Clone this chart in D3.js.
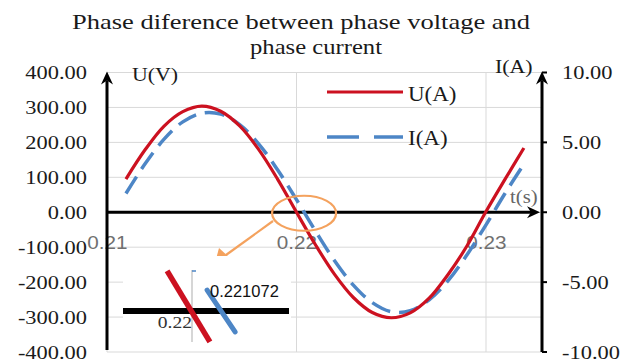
<!DOCTYPE html>
<html>
<head>
<meta charset="utf-8">
<script src="https://cdn.jsdelivr.net/npm/d3@7"></script>
<style>
  body { margin: 0; background: #fff; }
  svg { display: block; }
</style>
</head>
<body>
<svg id="chart" width="629" height="361"></svg>
<script>
// ---- data -------------------------------------------------------------
const times   = [0.211, 0.212, 0.213, 0.214, 0.215, 0.216, 0.217, 0.218, 0.219, 0.220, 0.221,
                 0.222, 0.223, 0.224, 0.225, 0.226, 0.227, 0.228, 0.229, 0.230, 0.231, 0.232];
const voltage = [95, 178, 246, 288, 304, 289, 247, 180, 95, 0, -93,
                 -177, -244, -287, -302, -288, -246, -178, -96, 2, 94, 184];
const current = [1.34, 3.45, 5.21, 6.47, 7.09, 7.02, 6.27, 4.90, 3.04, 0.90, -1.34,
                 -3.45, -5.21, -6.47, -7.12, -7.05, -6.27, -4.90, -3.04, -0.90, 1.34, 3.45];

const voltageTicks = [400, 300, 200, 100, 0, -100, -200, -300, -400];
const currentTicks = [10, 5, 0, -5, -10];
const timeTicks    = [0.21, 0.22, 0.23];

// zoomed detail of the zero crossing
const detailVoltage   = [[0.21911, 82], [0.22064, -63]];
const detailCurrent   = [[0.22054, 1.07], [0.22154, -1.07]];
const detailCrossings = [0.22, 0.221072];

const seriesNames = ["U(A)", "I(A)"];
const titleLines  = ["Phase diference between phase voltage and", "phase current"];

// ---- layout ------------------------------------------------------------
const svg = d3.select("#chart");
const SERIF = "'Liberation Serif','Times New Roman',serif";
const SANS  = "'Liberation Sans',Arial,sans-serif";
const SX = 1.15;               // horizontal stretch of the lettering
const RED = "#cc1120", BLUE = "#4d86c6", ORANGE = "#f4a25e";

const leftX = 107, rightX = 542;
const x  = d3.scaleLinear().domain([0.21, 0.23]).range([leftX, 486]);
const yU = d3.scaleLinear().domain([-400, 400]).range([352, 72.5]);
const yI = d3.scaleLinear().domain([-10, 10]).range([352, 72.5]);
const y0 = yU(0);

// title, each line fitted to its width
const titleBoxes = [{ x: 72, w: 458 }, { x: 250, w: 132 }];
svg.append("g").selectAll("text").data(titleLines).join("text")
  .attr("x", (d, i) => titleBoxes[i].x)
  .attr("y", (d, i) => 29 + i * 25)
  .attr("textLength", (d, i) => titleBoxes[i].w)
  .attr("lengthAdjust", "spacingAndGlyphs")
  .style("font-family", SERIF).style("font-size", "21px").attr("fill", "#1a1a1a")
  .text(d => d);

// gridlines
const grid = svg.append("g").attr("stroke", "#d9d9d9").attr("stroke-width", 1);
grid.selectAll(".h").data(voltageTicks).join("line").attr("class", "h")
  .attr("x1", leftX).attr("x2", rightX)
  .attr("y1", d => yU(d)).attr("y2", d => yU(d));
grid.selectAll(".v").data(timeTicks).join("line").attr("class", "v")
  .attr("x1", d => x(d)).attr("x2", d => x(d))
  .attr("y1", yU(400)).attr("y2", yU(-400));

// axis labels via d3 axes
const styleAxis = (g, family, size, color) => {
  g.select(".domain").remove();
  g.selectAll("line").remove();
  g.selectAll("text")
    .style("font-family", family).style("font-size", size).attr("fill", color)
    .attr("transform", `scale(${SX},1)`);
};

svg.append("g").attr("transform", `translate(${leftX},0)`)
  .call(d3.axisLeft(yU).tickValues(voltageTicks).tickSize(0).tickPadding(17.4)
        .tickFormat(d => d.toFixed(2)))
  .call(g => styleAxis(g, SERIF, "19.5px", "#1a1a1a"));

svg.append("g").attr("transform", `translate(${rightX},0)`)
  .call(d3.axisRight(yI).tickValues(currentTicks).tickSize(0).tickPadding(17.4)
        .tickFormat(d => d.toFixed(2)))
  .call(g => styleAxis(g, SERIF, "19.5px", "#1a1a1a"));

svg.append("g").attr("transform", `translate(0,${y0})`)
  .call(d3.axisBottom(x).tickValues(timeTicks).tickSize(0).tickPadding(24)
        .tickFormat(d => d.toFixed(2)))
  .call(g => styleAxis(g, SANS, "18px", "#707070"));

// small ticks on the right axis
svg.append("g").selectAll("line").data(currentTicks).join("line")
  .attr("x1", rightX).attr("x2", rightX + 5)
  .attr("y1", d => yI(d)).attr("y2", d => yI(d))
  .attr("stroke", "#000").attr("stroke-width", 2);

// black axes with arrow heads
const axes = svg.append("g");
axes.append("line").attr("x1", leftX).attr("x2", leftX).attr("y1", yU(-400) - 2).attr("y2", yU(400) + 8)
  .attr("stroke", "#000").attr("stroke-width", 3);
axes.append("line").attr("x1", rightX).attr("x2", rightX).attr("y1", yI(-10)).attr("y2", yI(10) + 8)
  .attr("stroke", "#000").attr("stroke-width", 3);
axes.append("line").attr("x1", leftX).attr("x2", 532).attr("y1", y0).attr("y2", y0)
  .attr("stroke", "#000").attr("stroke-width", 3);
const arrowUp = (cx, ty) => `M${cx},${ty} L${cx - 6},${ty + 13} L${cx},${ty + 9} L${cx + 6},${ty + 13} Z`;
axes.append("path").attr("d", arrowUp(leftX, yU(400) - 1)).attr("fill", "#000");
axes.append("path").attr("d", arrowUp(rightX, yI(10) - 1)).attr("fill", "#000");
axes.append("path").attr("d", `M540,${y0} L527,${y0 - 6} L531,${y0} L527,${y0 + 6} Z`).attr("fill", "#000");

// axis titles
svg.append("text").attr("transform", `translate(132,81) scale(${SX},1)`)
  .style("font-family", SERIF).style("font-size", "19px").attr("fill", "#1a1a1a").text("U(V)");
svg.append("text").attr("transform", `translate(495,73) scale(${SX},1)`)
  .style("font-family", SERIF).style("font-size", "19px").attr("fill", "#1a1a1a").text("I(A)");
svg.append("text").attr("transform", `translate(510,203) scale(${SX},1)`)
  .style("font-family", SERIF).style("font-size", "18px").attr("fill", "#666").text("t(s)");

// series
const lineU = d3.line().x((d, i) => x(times[i])).y(d => yU(d)).curve(d3.curveCatmullRom);
const lineI = d3.line().x((d, i) => x(times[i])).y(d => yI(d)).curve(d3.curveCatmullRom);
svg.append("path").attr("d", lineI(current)).attr("fill", "none")
  .attr("stroke", BLUE).attr("stroke-width", 3.5).attr("stroke-dasharray", "20,9");
svg.append("path").attr("d", lineU(voltage)).attr("fill", "none")
  .attr("stroke", RED).attr("stroke-width", 3.2);

// legend
const legend = svg.append("g");
legend.append("line").attr("x1", 327).attr("x2", 403).attr("y1", 92).attr("y2", 92)
  .attr("stroke", RED).attr("stroke-width", 3.2);
legend.append("line").attr("x1", 327).attr("x2", 403).attr("y1", 137).attr("y2", 137)
  .attr("stroke", BLUE).attr("stroke-width", 3.5).attr("stroke-dasharray", "32,15");
legend.selectAll("text").data(seriesNames).join("text")
  .attr("transform", (d, i) => `translate(408,${101 + i * 44}) scale(${SX},1)`)
  .style("font-family", SERIF).style("font-size", "20px").attr("fill", "#1a1a1a")
  .text(d => d);

// zero-crossing callout
svg.append("ellipse").attr("cx", x(0.2204)).attr("cy", y0 + 1).attr("rx", 32).attr("ry", 17.5)
  .attr("fill", "none").attr("stroke", ORANGE).attr("stroke-width", 2.2);
svg.append("line").attr("x1", 273).attr("y1", 221).attr("x2", 226).attr("y2", 255)
  .attr("stroke", ORANGE).attr("stroke-width", 2.2);
svg.append("path").attr("d", "M215,263 L219,248 L230,258 Z").attr("fill", ORANGE);

// detail panel
const xi  = d3.scaleLinear().domain([0.22, 0.221072]).range([192, 222]);
const yiU = d3.scaleLinear().domain([-100, 100]).range([311 + 49, 311 - 49]);
const yiI = d3.scaleLinear().domain([-2.5, 2.5]).range([311 + 49, 311 - 49]);
const panel = svg.append("g");
panel.append("rect").attr("x", 123).attr("y", 256).attr("width", 168).attr("height", 94).attr("fill", "#fff");
panel.append("line").attr("x1", xi(detailCrossings[0])).attr("x2", xi(detailCrossings[0]))
  .attr("y1", 270).attr("y2", 342).attr("stroke", "#c8c8c8").attr("stroke-width", 1.5);
panel.append("line").attr("x1", xi(detailCrossings[0])).attr("x2", xi(detailCrossings[0]) + 4)
  .attr("y1", 271).attr("y2", 271).attr("stroke", BLUE).attr("stroke-width", 1.5);
panel.append("line").attr("x1", 123).attr("x2", 289).attr("y1", yiU(0)).attr("y2", yiU(0))
  .attr("stroke", "#000").attr("stroke-width", 6);
panel.append("line")
  .attr("x1", xi(detailVoltage[0][0])).attr("y1", yiU(detailVoltage[0][1]))
  .attr("x2", xi(detailVoltage[1][0])).attr("y2", yiU(detailVoltage[1][1]))
  .attr("stroke", RED).attr("stroke-width", 5.5);
panel.append("line")
  .attr("x1", xi(detailCurrent[0][0])).attr("y1", yiI(detailCurrent[0][1]))
  .attr("x2", xi(detailCurrent[1][0])).attr("y2", yiI(detailCurrent[1][1]))
  .attr("stroke", BLUE).attr("stroke-width", 5).attr("stroke-linecap", "round");
panel.append("text").attr("x", xi(detailCrossings[1]) - 12).attr("y", 297)
  .style("font-family", SANS).style("font-size", "16.5px").attr("fill", "#111")
  .text(detailCrossings[1]);
panel.append("text").attr("transform", `translate(${xi(detailCrossings[0])},328) scale(${SX},1)`)
  .attr("text-anchor", "end")
  .style("font-family", SERIF).style("font-size", "17px").attr("fill", "#333")
  .text(detailCrossings[0].toFixed(2));
</script>
</body>
</html>
